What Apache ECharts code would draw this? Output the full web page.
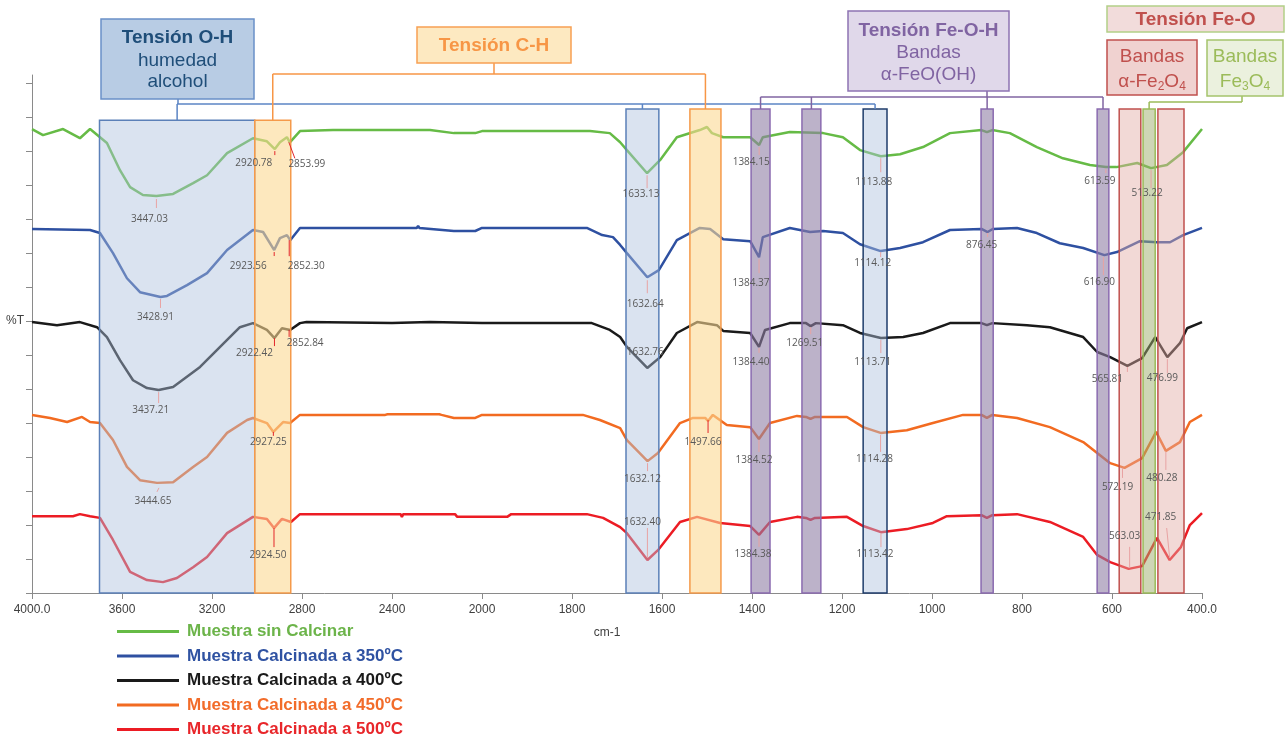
<!DOCTYPE html>
<html>
<head>
<meta charset="utf-8">
<title>Espectros FTIR</title>
<script src="https://cdn.jsdelivr.net/npm/echarts@6/dist/echarts.min.js"></script>
<style>
  html, body { margin: 0; padding: 0; background: #ffffff; }
  #chart { width: 1286px; height: 737px; }
</style>
</head>
<body>
<div id="chart"></div>
<script>
// Axis tick labels (cm-1). The scale doubles below 2000 cm-1, as usual for FTIR plots.
const tickLabels = ['4000.0', '3600', '3200', '2800', '2400', '2000', '1800', '1600', '1400', '1200', '1000', '800', '600', '400.0'];

// Spectra: [wavenumber cm-1, %T (stacked, arbitrary offset)]
const sinCalcinar = [
  [4000,136.5],[3951,134.7],[3862,136.5],[3787,133.8],[3742,136.5],[3667,132.4],[3609,124.4],[3564,119.4],
  [3507,117.1],[3447.03,116.8],[3373,117.4],[3284,120.6],[3222,122.9],[3133,129.4],[3018,133.8],[2956,132.9],
  [2920.78,130.6],[2898,132.6],[2867,134.1],[2853.99,132.6],[2809,135.9],[2662,136.2],[2231,136.2],[2125,135.3],
  [2030,135.3],[2000,135.9],[1760,135.9],[1716,135.3],[1693,132.6],[1678,130.3],[1633.13,123.5],[1604,127.4],
  [1567,134.1],[1516,136.2],[1500,137.1],[1489,135.3],[1464,134.1],[1404,134.1],[1384.15,131.8],[1376,134.1],
  [1316,135.6],[1242,135.3],[1198,134.1],[1160,130.3],[1113.88,128.5],[1071,129.1],[1020,131.2],[960,135.3],
  [890,136.2],[878,135.6],[866,136.2],[827,135.3],[767,131.2],[709,127.9],[649,125.9],[613.59,125.3],
  [590,125.3],[544,126.5],[513.22,125.0],[478,125.9],[442,129.7],[400,136.5]
];
const calcinada350 = [
  [4000,107.1],[3742,106.8],[3698,105.9],[3640,100.0],[3578,92.6],[3520,88.5],[3428.91,87.1],[3400,87.4],
  [3311,90.6],[3222,94.1],[3133,100.9],[3018,106.8],[2973,106.2],[2923.56,100.9],[2898,104.4],[2867,105.3],
  [2852.30,103.8],[2809,107.4],[2290,107.4],[2284,108.0],[2278,107.4],[2125,106.5],[2030,106.5],[2000,107.4],
  [1767,107.4],[1733,105.3],[1709,104.7],[1693,102.4],[1678,100.0],[1632.64,92.9],[1607,95.0],[1567,103.8],
  [1516,107.4],[1493,107.1],[1464,104.1],[1404,103.5],[1384.37,98.8],[1376,104.7],[1316,107.4],[1271,106.2],
  [1242,106.5],[1198,105.9],[1160,102.6],[1114.12,100.6],[1071,101.5],[1020,103.2],[960,106.8],[890,107.1],
  [876.45,106.2],[865,107.1],[811,107.4],[767,105.9],[716,102.9],[664,101.5],[616.90,99.4],[589,100.3],
  [538,103.5],[500,103.2],[471,103.2],[442,105.3],[400,107.4]
];
const calcinada400 = [
  [4000,79.7],[3889,78.8],[3787,79.7],[3711,78.2],[3667,75.3],[3609,68.5],[3551,62.6],[3489,60.3],
  [3437.21,59.7],[3373,60.6],[3253,66.5],[3164,72.4],[3076,78.2],[3018,79.4],[2956,77.4],[2922.42,75.0],
  [2889,77.9],[2852.84,77.4],[2809,79.4],[2780,79.7],[2400,79.4],[2396,79.7],[2231,79.7],[2225,79.4],
  [2000,79.4],[1756,79.4],[1716,77.4],[1693,75.3],[1678,72.4],[1632.76,66.2],[1604,69.4],[1567,76.5],
  [1522,79.7],[1478,78.8],[1464,77.1],[1404,76.5],[1384.40,72.4],[1371,77.4],[1316,79.4],[1280,79.4],
  [1269.51,78.5],[1258,79.4],[1198,78.8],[1160,76.5],[1113.71,75.0],[1064,75.3],[1020,76.5],[960,79.4],
  [890,79.4],[878,78.8],[866,79.4],[789,78.8],[738,78.2],[664,75.3],[633,70.9],[604,69.4],
  [565.81,66.8],[533,69.1],[504,75.3],[476.99,69.4],[449,73.5],[433,77.9],[400,79.7]
];
const calcinada450 = [
  [4000,52.4],[3920,51.5],[3844,50.3],[3778,51.8],[3742,50.3],[3698,50.0],[3640,45.0],[3578,37.1],
  [3520,33.2],[3444.65,32.4],[3373,32.6],[3284,37.1],[3222,40.0],[3133,47.1],[3044,50.9],[3018,51.5],
  [2956,50.0],[2927.25,47.4],[2884,50.3],[2853,50.0],[2809,52.4],[2430,52.4],[2420,52.6],[2190,52.6],
  [2180,52.4],[2125,51.5],[2030,51.5],[2000,52.4],[1776,52.4],[1738,50.9],[1693,48.5],[1678,45.0],
  [1632.12,38.8],[1609,41.2],[1560,50.0],[1531,51.5],[1504,51.5],[1497.66,50.6],[1487,52.4],[1456,49.4],
  [1404,48.8],[1384.52,45.3],[1360,50.0],[1300,52.1],[1280,51.8],[1270,51.2],[1260,51.8],[1189,51.8],
  [1153,48.8],[1114.28,47.1],[1056,47.9],[998,50.0],[931,52.4],[890,52.4],[878,51.5],[866,52.4],
  [811,51.5],[738,48.8],[664,44.4],[633,41.2],[604,38.2],[572.19,36.8],[533,39.7],[502,47.4],
  [480.28,41.8],[449,44.4],[427,50.3],[400,52.4]
];
const calcinada500 = [
  [4000,22.6],[3818,22.6],[3787,23.2],[3742,22.6],[3698,22.1],[3640,15.6],[3564,6.2],[3489,3.8],
  [3418,3.2],[3356,4.4],[3284,7.6],[3222,10.6],[3133,17.6],[3018,22.4],[2956,21.8],[2924.50,19.1],
  [2889,21.8],[2849,20.9],[2809,23.2],[2362,23.2],[2356,22.4],[2350,23.2],[2120,23.2],[2110,22.4],
  [1944,22.4],[1935,23.2],[1767,23.2],[1731,22.1],[1693,19.4],[1678,17.6],[1632.40,9.7],[1609,12.6],
  [1560,20.9],[1522,22.4],[1471,20.6],[1404,19.7],[1384.38,17.1],[1360,20.9],[1300,22.4],[1280,22.1],
  [1270,21.5],[1260,22.1],[1189,22.4],[1153,19.7],[1113.42,17.9],[1056,18.8],[998,20.6],[967,22.6],
  [890,22.9],[878,22.1],[866,22.9],[811,23.2],[738,20.9],[664,16.5],[633,11.2],[604,9.1],
  [563.03,7.1],[533,7.9],[500,16.2],[471.85,9.7],[447,13.5],[427,20.0],[400,23.5]
];

// Labelled band minima (cm-1)
const picosSinCalcinar = [3447.03, 2920.78, 2853.99, 1633.13, 1384.15, 1113.88, 613.59, 513.22];
const picos350 = [3428.91, 2923.56, 2852.30, 1632.64, 1384.37, 1114.12, 876.45, 616.90];
const picos400 = [3437.21, 2922.42, 2852.84, 1632.76, 1384.40, 1269.51, 1113.71, 565.81, 476.99];
const picos450 = [3444.65, 2927.25, 1632.12, 1497.66, 1384.52, 1114.28, 572.19, 480.28];
const picos500 = [2924.50, 1632.40, 1384.38, 1113.42, 563.03, 471.85];

// Highlighted absorption regions: [from cm-1, to cm-1, group]
const bandas = [
  [3700, 3010, 'oh'], [3010, 2850, 'ch'], [1680, 1607, 'oh'], [1538, 1469, 'ch'],
  [1402, 1360, 'feoh'], [1289, 1247, 'feoh'], [1153, 1100, 'ohDark'], [891, 864, 'feoh'],
  [633, 607, 'feoh'], [584, 536, 'fe2o4'], [531, 504, 'fe3o4'], [498, 440, 'fe2o4']
];

// wavenumber -> position on the split axis (400 cm-1 per step above 2000, 200 below)
function toAxis(w) { return w >= 2000 ? (4000 - w) / 400 : 5 + (2000 - w) / 200; }

// Label placement around each minimum: t = text offset, l = leader line, r = red leader
const labelLayout = [
  [ {t:[-7,23],l:[0,3,0,12]}, {t:[-21,14],l:[0,2,0,6],r:1}, {t:[17,22],l:[-1,0,5,16],r:1}, {t:[-6,21],l:[0,2,0,15]},
    {t:[-8,17],l:[0,2,0,10]}, {t:[-7,26],l:[0,2,0,16]}, {t:[-6,14],l:[0,2,0,6]}, {t:[-4,25],l:[0,2,0,20]} ],
  [ {t:[-5,20],l:[0,2,0,11]}, {t:[-26,16],l:[0,2,0,6],r:1}, {t:[16,26],l:[-1,0,-1,16],r:1}, {t:[-2,27],l:[0,3,0,16]},
    {t:[-8,26],l:[0,2,0,16]}, {t:[-8,12],l:[0,1,0,6]}, {t:[-6,13],l:[0,1,0,5]}, {t:[-5,27],l:[-1,2,-1,20]} ],
  [ {t:[-8,20],l:[0,2,0,13]}, {t:[-20,15],l:[0,0,0,8],r:1}, {t:[15,13],l:[-1,0,-1,7],r:1}, {t:[-2,-16]},
    {t:[-8,15],l:[0,1,0,6]}, {t:[-6,17],l:[0,1,0,8]}, {t:[-8,24],l:[0,2,0,15]}, {t:[-20,13],l:[0,1,0,6]},
    {t:[-5,21],l:[0,2,0,16]} ],
  [ {t:[-4,18],l:[2,5,0,9]}, {t:[-5,10],l:[0,0,0,4],r:1}, {t:[-5,18],l:[0,2,0,10]}, {t:[-5,21],l:[0,-1,0,12],r:1},
    {t:[-5,21],l:[0,1,0,13]}, {t:[-6,26],l:[0,2,0,19]}, {t:[-7,19],l:[-2,0,-2,10]}, {t:[-4,27],l:[0,1,0,19]} ],
  [ {t:[-6,27],l:[0,0,0,19],r:1}, {t:[-5,-38],l:[0,-2,0,-32]}, {t:[-6,19],l:[0,1,0,12]}, {t:[-6,22],l:[0,1,0,15]},
    {t:[-4,-33],l:[1,-1,1,-22]}, {t:[-9,-43],l:[0,-2,-3,-32]} ]
];

const muestras = [
  { name: 'Muestra sin Calcinar', data: sinCalcinar, peaks: picosSinCalcinar, color: '#66bb46', text: '#6cb44a' },
  { name: 'Muestra Calcinada a 350ºC', data: calcinada350, peaks: picos350, color: '#2e50a1', text: '#2f52a2' },
  { name: 'Muestra Calcinada a 400ºC', data: calcinada400, peaks: picos400, color: '#1a1a1a', text: '#1a1a1a' },
  { name: 'Muestra Calcinada a 450ºC', data: calcinada450, peaks: picos450, color: '#f26b21', text: '#f26c2a' },
  { name: 'Muestra Calcinada a 500ºC', data: calcinada500, peaks: picos500, color: '#ec1c24', text: '#e8262a' }
];

const bandStyle = {
  oh:     { fill: 'rgba(173,193,222,0.45)', stroke: '#5b80b8' },
  ohDark: { fill: 'rgba(173,193,222,0.45)', stroke: '#1f3d6b' },
  ch:     { fill: 'rgba(252,217,147,0.6)',  stroke: '#f59a4a' },
  feoh:   { fill: 'rgba(143,127,165,0.6)',  stroke: '#8a6bb0' },
  fe2o4:  { fill: 'rgba(226,171,164,0.45)', stroke: '#c0504d' },
  fe3o4:  { fill: 'rgba(157,173,109,0.5)',  stroke: '#9bbb59' }
};
const WIDE_TOP = 139.1, NARROW_TOP = 142.4;
function bandTop(b) { return (b[0] - b[1]) > 150 ? WIDE_TOP : NARROW_TOP; }

// Peak label items: [axis x, %T at the minimum, sample index, peak index]
const peakItems = [];
muestras.forEach((m, si) => {
  m.peaks.forEach((w, pi) => {
    const pt = m.data.find(p => p[0] === w);
    peakItems.push({ value: [toAxis(w), pt[1], si, pi], text: w.toFixed(2) });
  });
});

const FONT = '"Liberation Sans", Arial, sans-serif';

const chart = echarts.init(document.getElementById('chart'), null, { renderer: 'canvas' });

const series = muestras.map(m => ({
  name: m.name,
  type: 'line',
  data: m.data.map(p => [toAxis(p[0]), p[1]]),
  color: m.color,
  showSymbol: false,
  symbol: 'none',
  lineStyle: { width: 2.5, color: m.color },
  z: 2,
  animation: false
}));

series.push({
  type: 'custom',
  name: 'bandas',
  z: 5,
  silent: true,
  animation: false,
  encode: { x: [0, 1], y: 2 },
  data: bandas.map((b, i) => [toAxis(b[0]), toAxis(b[1]), i]),
  renderItem(params, api) {
    const b = bandas[api.value(2)];
    const st = bandStyle[b[2]];
    const p1 = api.coord([api.value(0), bandTop(b)]);
    const p2 = api.coord([api.value(1), 0]);
    return {
      type: 'rect',
      shape: { x: p1[0], y: p1[1], width: p2[0] - p1[0], height: p2[1] - p1[1] },
      style: { fill: st.fill, stroke: st.stroke, lineWidth: 1.5 }
    };
  }
});

series.push({
  type: 'custom',
  name: 'picos',
  z: 10,
  silent: true,
  animation: false,
  encode: { x: 0, y: 1 },
  data: peakItems.map(p => p.value),
  renderItem(params, api) {
    const pt = api.coord([api.value(0), api.value(1)]);
    const L = labelLayout[api.value(2)][api.value(3)];
    const children = [];
    if (L.l) {
      children.push({
        type: 'line',
        shape: { x1: pt[0] + L.l[0], y1: pt[1] + L.l[1], x2: pt[0] + L.l[2], y2: pt[1] + L.l[3] },
        style: { stroke: L.r ? '#e3262b' : '#e8a3a3', lineWidth: 1 }
      });
    }
    children.push({
      type: 'text',
      x: pt[0] + L.t[0],
      y: pt[1] + L.t[1],
      style: {
        text: peakItems[params.dataIndex].text,
        fill: '#595959',
        font: '10px "Open Sans", "Liberation Sans", sans-serif',
        align: 'center',
        verticalAlign: 'middle'
      }
    });
    return { type: 'group', children };
  }
});

const yTicks = [];
for (let v = 0; v <= 150; v += 10) yTicks.push(v);

chart.setOption({
  animation: false,
  backgroundColor: '#ffffff',
  grid: { left: 32, right: 84, top: 75, bottom: 144, containLabel: false },
  xAxis: {
    type: 'value', min: 0, max: 13, interval: 1,
    axisLine: { show: true, lineStyle: { color: '#8a8a8a', width: 1 } },
    axisTick: { show: true, length: 6, lineStyle: { color: '#8a8a8a' } },
    axisLabel: { formatter: v => tickLabels[Math.round(v)], color: '#404040', fontSize: 12, fontFamily: FONT, margin: 11 },
    splitLine: { show: false }
  },
  yAxis: {
    type: 'value', min: 0, max: 152.4, interval: 10,
    axisLine: { show: true, lineStyle: { color: '#8a8a8a', width: 1 } },
    axisTick: { show: true, length: 6, customValues: yTicks, lineStyle: { color: '#8a8a8a' } },
    axisLabel: { customValues: [80], formatter: () => '%T', color: '#404040', fontSize: 12, fontFamily: FONT, margin: 8 },
    splitLine: { show: false }
  },
  legend: {
    orient: 'vertical', left: 117, top: 623, height: 130, padding: 0,
    itemWidth: 62, itemHeight: 3, icon: 'rect', itemGap: 7.5,
    textStyle: { fontFamily: FONT, fontWeight: 'bold', fontSize: 17, lineHeight: 17, padding: [0, 0, 0, 3] },
    data: muestras.map(m => ({ name: m.name, textStyle: { color: m.text } }))
  },
  series
});

// Annotation boxes above the plot
const boxes = [
  { x: 101, y: 19, w: 153, h: 80, fill: '#b8cce4', stroke: '#6a90c8', color: '#1f4e79',
    lines: [{ text: 'Tensión O-H', bold: true, y: 38 }, { text: 'humedad', y: 61 }, { text: 'alcohol', y: 82 }] },
  { x: 417, y: 27, w: 154, h: 36, fill: '#fde9c1', stroke: '#f7a053', color: '#f79646',
    lines: [{ text: 'Tensión C-H', bold: true, y: 46 }] },
  { x: 848, y: 11, w: 161, h: 80, fill: '#e0d8ea', stroke: '#8d73b3', color: '#8064a2',
    lines: [{ text: 'Tensión Fe-O-H', bold: true, y: 31 }, { text: 'Bandas', y: 53 }, { text: 'α-FeO(OH)', y: 75 }] },
  { x: 1107, y: 6, w: 177, h: 26, fill: '#f2dcdb', stroke: '#b3cf88', color: '#c0504d',
    lines: [{ text: 'Tensión Fe-O', bold: true, y: 20 }] },
  { x: 1107, y: 40, w: 90, h: 55, fill: '#f0d2d0', stroke: '#c0504d', color: '#c0504d',
    lines: [{ text: 'Bandas', y: 57 }, { text: '{n|α-Fe}{s|2}{n|O}{s|4}', rich: true, y: 82 }] },
  { x: 1207, y: 40, w: 76, h: 56, fill: '#ebf1de', stroke: '#a5c46c', color: '#9bbb59',
    lines: [{ text: 'Bandas', y: 57 }, { text: '{n|Fe}{s|3}{n|O}{s|4}', rich: true, y: 82 }] }
];

// Brackets joining each box to its bands
const brackets = [
  { groups: ['oh', 'ohDark'], level: 104, anchorX: 178, anchorY: 99, color: '#5b84c4' },
  { groups: ['ch'], level: 74, anchorX: 494, anchorY: 63, color: '#f79646' },
  { groups: ['feoh'], level: 97, anchorX: 987, anchorY: 91, color: '#8064a2' },
  { groups: ['fe3o4'], level: 102, anchorX: 1242, anchorY: 96, color: '#9bbb59' }
];

const graphics = [];
brackets.forEach(br => {
  const xs = [br.anchorX];
  const verts = [];
  bandas.forEach(b => {
    if (br.groups.indexOf(b[2]) < 0) return;
    const cx = (toAxis(b[0]) + toAxis(b[1])) / 2;
    const p = chart.convertToPixel({ gridIndex: 0 }, [cx, bandTop(b)]);
    xs.push(p[0]);
    verts.push([p[0], p[1]]);
  });
  const ls = { stroke: br.color, lineWidth: 1.5 };
  graphics.push({ type: 'line', z: 50, silent: true, shape: { x1: br.anchorX, y1: br.anchorY, x2: br.anchorX, y2: br.level }, style: ls });
  graphics.push({ type: 'line', z: 50, silent: true, shape: { x1: Math.min.apply(null, xs), y1: br.level, x2: Math.max.apply(null, xs), y2: br.level }, style: ls });
  verts.forEach(v => graphics.push({ type: 'line', z: 50, silent: true, shape: { x1: v[0], y1: br.level, x2: v[0], y2: v[1] }, style: ls }));
});

boxes.forEach(b => {
  graphics.push({ type: 'rect', z: 60, silent: true, shape: { x: b.x, y: b.y, width: b.w, height: b.h },
    style: { fill: b.fill, stroke: b.stroke, lineWidth: 1.5 } });
  b.lines.forEach(ln => {
    const style = {
      text: ln.text, fill: b.color, align: 'center', verticalAlign: 'middle',
      font: (ln.bold ? 'bold ' : '') + '19px ' + FONT
    };
    if (ln.rich) {
      style.rich = {
        n: { fontSize: 19, fontFamily: FONT, fill: b.color, lineHeight: 22 },
        s: { fontSize: 12, fontFamily: FONT, fill: b.color, verticalAlign: 'bottom' }
      };
    }
    graphics.push({ type: 'text', z: 61, silent: true, x: b.x + b.w / 2, y: ln.y, style });
  });
});

graphics.push({ type: 'text', z: 61, silent: true, x: 607, y: 633,
  style: { text: 'cm-1', fill: '#404040', font: '12px ' + FONT, align: 'center', verticalAlign: 'middle' } });

chart.setOption({ graphic: graphics });
</script>
</body>
</html>
